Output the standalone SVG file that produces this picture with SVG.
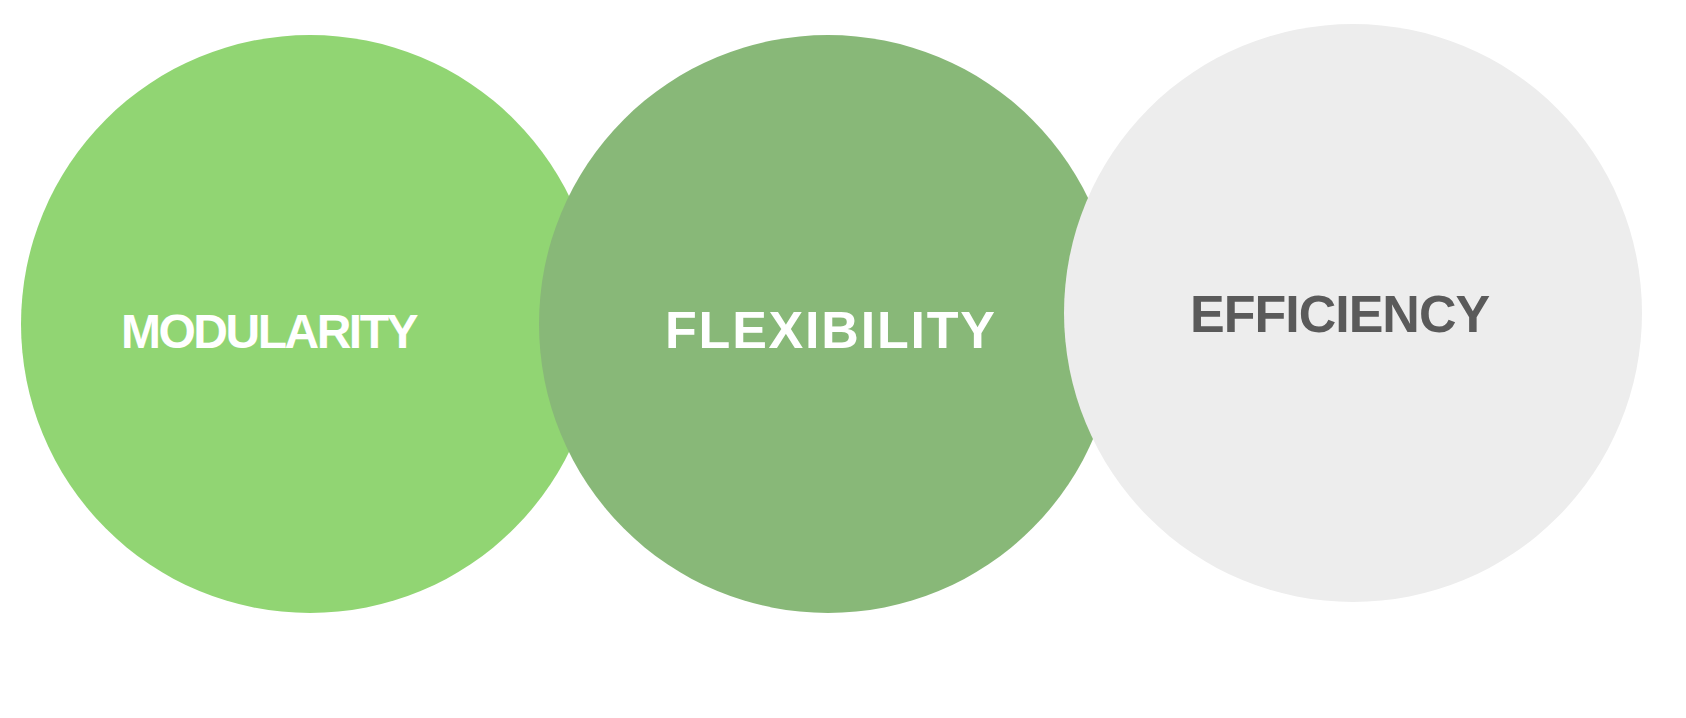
<svg xmlns="http://www.w3.org/2000/svg" width="1686" height="718" viewBox="0 0 1686 718">
<style>
.lbl{font-family:"Liberation Sans",Arial,sans-serif;font-weight:700;font-size:52px}
.w{fill:#ffffff}
.g{fill:#5a5a5a}
.m{font-size:48px;letter-spacing:-2.5px}
.f{letter-spacing:1.8px}
.e{letter-spacing:-1px}
</style>
<rect width="1686" height="718" fill="#ffffff"/>
<g id="modularity">
<circle cx="310" cy="324" r="289" fill="#91d573"/>
<text class="lbl w m" x="121" y="348">MODULARITY</text>
</g>
<g id="flexibility">
<circle cx="828" cy="324" r="289" fill="#88b878"/>
<text class="lbl w f" x="665" y="348">FLEXIBILITY</text>
</g>
<g id="efficiency">
<circle cx="1353" cy="313" r="289" fill="#ededed"/>
<text class="lbl g e" x="1190" y="332">EFFICIENCY</text>
</g>
<g id="connectors"></g>
</svg>
